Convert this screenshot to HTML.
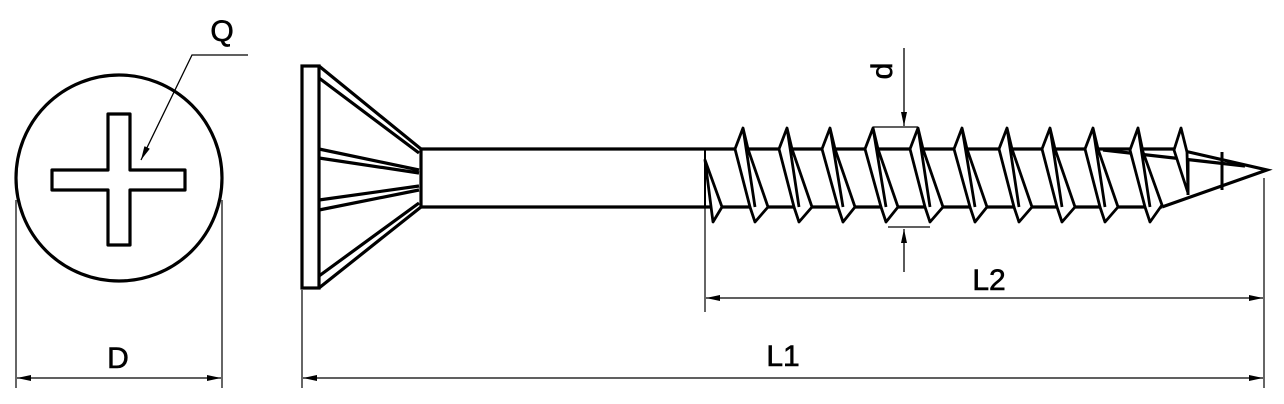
<!DOCTYPE html>
<html><head><meta charset="utf-8"><style>
html,body{margin:0;padding:0;background:#fff;}
svg{display:block;}
text{font-family:"Liberation Sans",sans-serif;fill:#000;stroke:#000;stroke-width:0.6;}
</style></head><body>
<svg width="1284" height="404" viewBox="0 0 1284 404" xmlns="http://www.w3.org/2000/svg">
<defs>
<marker id="ar" markerWidth="14" markerHeight="8" refX="14" refY="4" orient="auto" markerUnits="userSpaceOnUse">
<path d="M0,1 L14,4 L0,7 Z" fill="#000"/>
</marker>
</defs>
<g fill="none" stroke="#000">
<circle cx="119" cy="178" r="103" stroke-width="3.2"/>
<path d="M108,114 H130 V170 H185 V190 H130 V245 H108 V190 H52 V170 H108 Z" stroke-width="3.2" stroke-linejoin="round"/>
<path d="M248,55 H192 L141,160" stroke-width="1.3" marker-end="url(#ar)"/>
<line x1="16" y1="200" x2="16" y2="388" stroke-width="1.2"/>
<line x1="222" y1="200" x2="222" y2="388" stroke-width="1.2"/>
<line x1="30" y1="378" x2="208" y2="378" stroke-width="1.3"/>
<line x1="30" y1="378" x2="17" y2="378" stroke-width="1.3" marker-end="url(#ar)"/>
<line x1="208" y1="378" x2="221" y2="378" stroke-width="1.3" marker-end="url(#ar)"/>

<rect x="302" y="66" width="17" height="222" stroke-width="3.2"/>
<path d="M319,66 L421,149 M319,78 L419,153 M319,288 L421,207 M319,276 L419,203" stroke-width="3.2"/>
<path d="M319,149 L419,170 M319,158 L419,173 M319,200 L419,186 M319,210 L419,190" stroke-width="3.2"/>
<line x1="421" y1="149" x2="421" y2="207" stroke-width="3.2"/>
<line x1="421" y1="149" x2="1180" y2="149" stroke-width="3.2"/>
<line x1="421" y1="207" x2="1162" y2="207" stroke-width="3.2"/>
<line x1="705" y1="149" x2="705" y2="207" stroke-width="2"/>
<path d="M1180,150 L1267,170 L1162,207" stroke-width="3.2"/>
<path d="M1103,150 L1245,166" stroke-width="3.2"/>
<line x1="1188" y1="160" x2="1188" y2="195" stroke-width="3"/>
<line x1="1222" y1="152" x2="1222" y2="190" stroke-width="3"/>
</g>
<g fill="#fff" stroke="#000" stroke-width="2.8" stroke-linejoin="round">
<path d="M705,160 L713,222 L722,207 Z"/>
<path d="M735,149 L743,128 L748,149 L768,207 L755,222 L750,207 Z M743,128 L755,207"/>
<path d="M779,149 L787,128 L792,149 L812,207 L799,222 L794,207 Z M787,128 L799,207"/>
<path d="M822,149 L830,128 L835,149 L855,207 L843,222 L838,207 Z M830,128 L843,207"/>
<path d="M865,149 L873,128 L878,149 L898,207 L886,222 L881,207 Z M873,128 L886,207"/>
<path d="M910,149 L918,128 L923,149 L943,207 L930,222 L925,207 Z M918,128 L930,207"/>
<path d="M954,149 L962,128 L967,149 L987,207 L975,222 L970,207 Z M962,128 L975,207"/>
<path d="M999,149 L1007,128 L1012,149 L1032,207 L1019,222 L1014,207 Z M1007,128 L1019,207"/>
<path d="M1042,149 L1050,128 L1055,149 L1075,207 L1062,222 L1057,207 Z M1050,128 L1062,207"/>
<path d="M1085,149 L1093,128 L1098,149 L1118,207 L1105,222 L1100,207 Z M1093,128 L1105,207"/>
<path d="M1130,150 L1138,128 L1143,152 L1162,205 L1150,222 L1145,207 Z M1138,128 L1150,207"/>
<path d="M1174,150 L1181,128 L1187,152 L1188,193 Z"/>
</g>
<g fill="none" stroke="#000" stroke-width="1.3">
<path d="M873,127 H918 M888,227 H930"/>
<line x1="904" y1="48" x2="904" y2="126" marker-end="url(#ar)"/>
<line x1="904" y1="272" x2="904" y2="229" marker-end="url(#ar)"/>
<line x1="705" y1="207" x2="705" y2="312" stroke-width="1.2"/>
<line x1="1264" y1="178" x2="1264" y2="388" stroke-width="1.2"/>
<line x1="302" y1="290" x2="302" y2="388" stroke-width="1.2"/>
<line x1="720" y1="298" x2="1250" y2="298"/>
<line x1="720" y1="298" x2="706" y2="298" marker-end="url(#ar)"/>
<line x1="1250" y1="298" x2="1263" y2="298" marker-end="url(#ar)"/>
<line x1="316" y1="378" x2="1250" y2="378"/>
<line x1="316" y1="378" x2="303" y2="378" marker-end="url(#ar)"/>
<line x1="1250" y1="378" x2="1263" y2="378" marker-end="url(#ar)"/>
</g>
<text x="222" y="41" font-size="30" text-anchor="middle">Q</text>
<text x="118" y="368" font-size="30" text-anchor="middle">D</text>
<text x="989" y="290" font-size="30" text-anchor="middle">L2</text>
<text x="783" y="366" font-size="30" text-anchor="middle">L1</text>
<text x="0" y="0" font-size="30" text-anchor="middle" transform="translate(892,71) rotate(-90)">d</text>
</svg>
</body></html>
